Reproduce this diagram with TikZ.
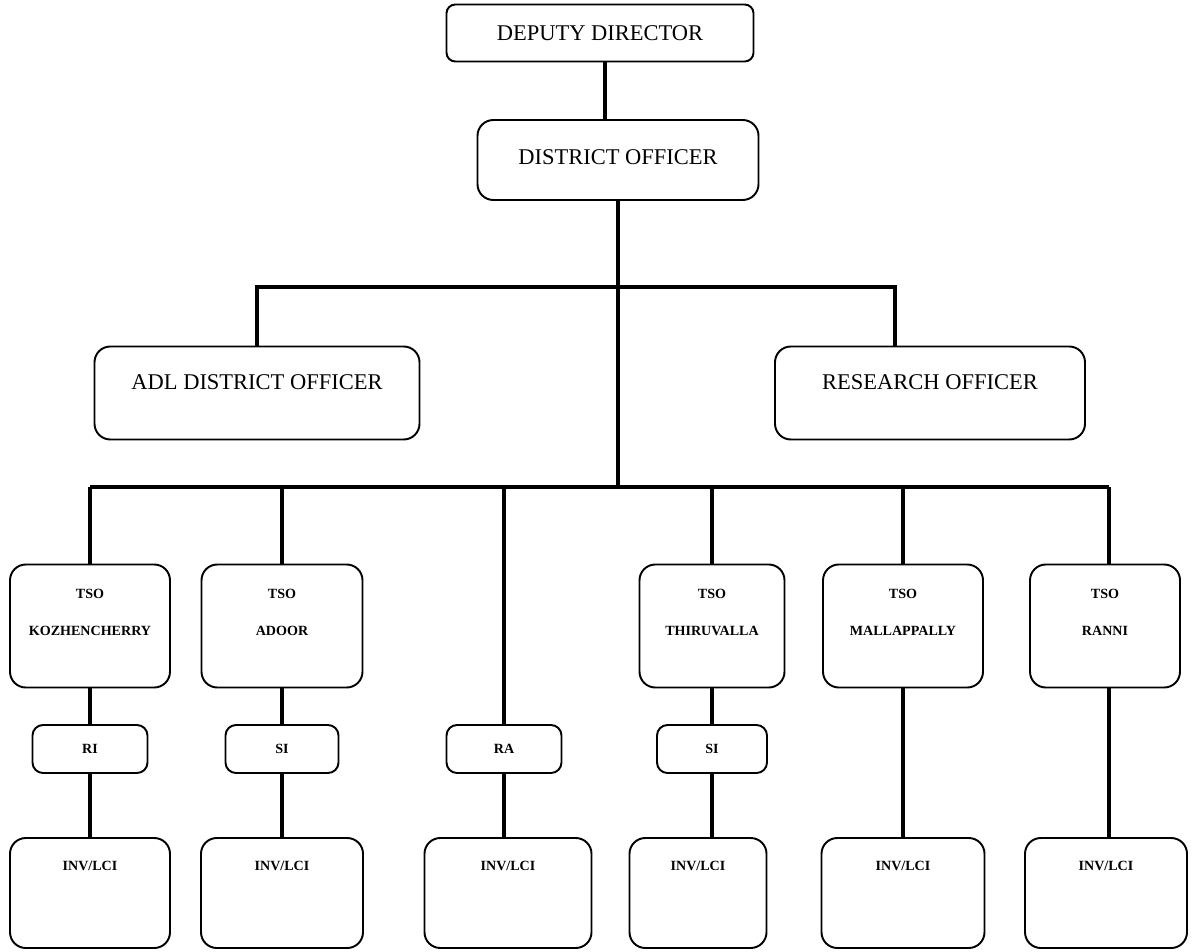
\documentclass[tikz,border=0pt]{standalone}
\usepackage{fontspec}
\setmainfont{Liberation Serif}
\begin{document}
\begin{tikzpicture}[x=0.02cm,y=-0.02cm,
  box/.style={draw=black,line width=1.1pt,rounded corners=9pt,fill=white,inner sep=0pt},
  big/.style={font=\fontsize{12.8}{14}\selectfont},
  small/.style={font=\fontsize{8}{9}\selectfont\bfseries},
  conn/.style={line width=1.8pt},
  bus/.style={line width=2.4pt}]
\useasboundingbox (0,0) rectangle (1199,952);
% top
\node[box,rounded corners=5pt,minimum width=307*0.02cm,minimum height=57*0.02cm,big] (dd) at (600,33) {DEPUTY DIRECTOR};
\node[box,minimum width=281*0.02cm,minimum height=80*0.02cm,
  label={[anchor=north,yshift=-14pt,big]north:DISTRICT OFFICER}] (do) at (618,160) {};
\node[box,minimum width=325*0.02cm,minimum height=93*0.02cm,
  label={[anchor=north,yshift=-13pt,big]north:ADL DISTRICT OFFICER}] (adl) at (257,393) {};
\node[box,minimum width=310*0.02cm,minimum height=93*0.02cm,
  label={[anchor=north,yshift=-13pt,big]north:RESEARCH OFFICER}] (ro) at (930,393) {};
% TSO boxes
\foreach \n/\x/\w/\t in {t1/90/160/KOZHENCHERRY,t2/282/161/ADOOR,t3/712/145/THIRUVALLA,t4/903/160/MALLAPPALLY,t5/1105/150/RANNI}{
  \node[box,minimum width=\w*0.02cm,minimum height=123*0.02cm,
    label={[anchor=north,yshift=-11pt,small,align=center]north:TSO\\[12pt]\t}] (\n) at (\x,626) {};
}
% small boxes
\foreach \n/\x/\w/\t in {s1/90/115/RI,s2/282/113/SI,s3/504/115/RA,s4/712/110/SI}{
  \node[box,rounded corners=6pt,minimum width=\w*0.02cm,minimum height=48*0.02cm,small] (\n) at (\x,749) {\t};
}
% bottom boxes
\foreach \n/\x/\w in {b1/90/160,b2/282/162,b3/508/167,b4/698/137,b5/903/163,b6/1106/162}{
  \node[box,minimum width=\w*0.02cm,minimum height=110*0.02cm,
    label={[anchor=north,yshift=-10pt,small]north:INV/LCI}] (\n) at (\x,893) {};
}
% junctions
\coordinate (hj) at (618,287);
\coordinate (rotop) at (895,347);
\coordinate (bj) at (618,487);
\coordinate (bl) at (90,487);
\coordinate (br) at (1109,487);
\coordinate (t5top) at (1109,565);
\coordinate (b6top) at (1109,838);
% connectors
\draw[conn] (dd.south -| 605,0) -- (do.north -| 605,0);
\draw[conn] (do.south) -- (bj);
\draw[conn] (adl.north) |- (hj) -| (rotop);
\draw[bus] (bl) -- (br);
\draw[conn] (bl) -- (t1.north);
\draw[conn] (t2.north |- bj) -- (t2.north);
\draw[conn] (s3.north |- bj) -- (s3.north);
\draw[conn] (t3.north |- bj) -- (t3.north);
\draw[conn] (t4.north |- bj) -- (t4.north);
\draw[conn] (br) -- (t5top);
\draw[conn] (t1.south) -- (s1.north);
\draw[conn] (t2.south) -- (s2.north);
\draw[conn] (t3.south) -- (s4.north);
\draw[conn] (s1.south) -- (s1.south |- b1.north);
\draw[conn] (s2.south) -- (s2.south |- b2.north);
\draw[conn] (s3.south) -- (s3.south |- b3.north);
\draw[conn] (s4.south) -- (s4.south |- b4.north);
\draw[conn] (t4.south) -- (b5.north);
\draw[conn] (t5.south -| t5top) -- (b6top);
\end{tikzpicture}
\end{document}
